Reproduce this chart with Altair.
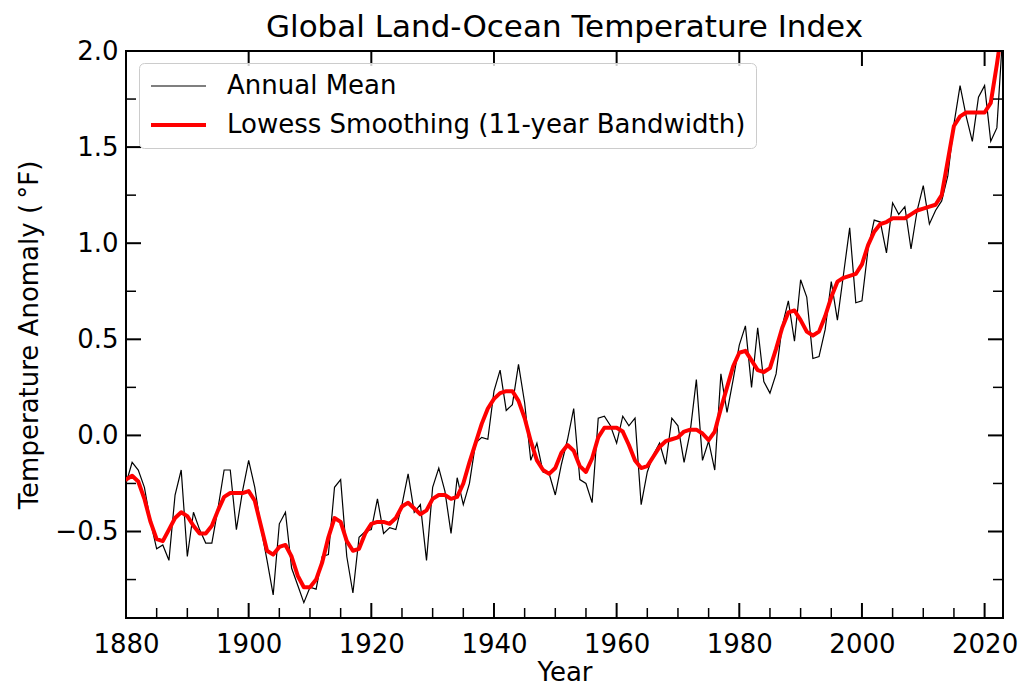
import altair as alt
import pandas as pd

# Annual global land-ocean temperature anomalies, degrees Fahrenheit
years = list(range(1880, 2024))
annual_mean = [
    -0.25, -0.14, -0.18, -0.27, -0.45, -0.59, -0.57, -0.65, -0.31, -0.18,  # 1880s
    -0.63, -0.40, -0.49, -0.56, -0.56, -0.38, -0.18, -0.18, -0.49, -0.29,  # 1890s
    -0.13, -0.27, -0.48, -0.65, -0.83, -0.46, -0.40, -0.69, -0.78, -0.87,  # 1900s
    -0.79, -0.80, -0.63, -0.62, -0.27, -0.23, -0.63, -0.82, -0.53, -0.50,  # 1910s
    -0.49, -0.33, -0.51, -0.48, -0.49, -0.36, -0.20, -0.40, -0.36, -0.65,  # 1920s
    -0.27, -0.17, -0.29, -0.51, -0.22, -0.36, -0.25, -0.04, -0.01, -0.02,  # 1930s
    0.23, 0.34, 0.13, 0.16, 0.37, 0.17, -0.13, -0.04, -0.19, -0.20,        # 1940s
    -0.31, -0.15, -0.02, 0.14, -0.23, -0.25, -0.35, 0.09, 0.10, 0.05,      # 1950s
    -0.04, 0.10, 0.05, 0.09, -0.36, -0.19, -0.10, -0.04, -0.15, 0.09,      # 1960s
    0.05, -0.14, 0.02, 0.29, -0.13, -0.03, -0.18, 0.32, 0.12, 0.29,        # 1970s
    0.47, 0.57, 0.25, 0.56, 0.28, 0.22, 0.32, 0.57, 0.70, 0.49,            # 1980s
    0.81, 0.72, 0.40, 0.41, 0.55, 0.80, 0.60, 0.84, 1.08, 0.69,            # 1990s
    0.70, 0.97, 1.12, 1.11, 0.95, 1.21, 1.15, 1.19, 0.97, 1.17,            # 2000s
    1.30, 1.10, 1.17, 1.22, 1.35, 1.62, 1.82, 1.66, 1.53, 1.76,            # 2010s
    1.82, 1.53, 1.60, 2.11,                                                # 2020s
]

# LOWESS-smoothed series (11-year bandwidth), degrees Fahrenheit
lowess_smooth = [
    -0.23, -0.21, -0.24, -0.33, -0.45, -0.54, -0.55, -0.49, -0.43, -0.40,  # 1880s
    -0.42, -0.47, -0.51, -0.51, -0.47, -0.39, -0.32, -0.30, -0.30, -0.30,  # 1890s
    -0.29, -0.34, -0.47, -0.60, -0.62, -0.58, -0.57, -0.63, -0.73, -0.79,  # 1900s
    -0.79, -0.75, -0.66, -0.53, -0.43, -0.45, -0.55, -0.60, -0.59, -0.51,  # 1910s
    -0.46, -0.45, -0.45, -0.46, -0.43, -0.37, -0.35, -0.38, -0.41, -0.39,  # 1920s
    -0.33, -0.31, -0.31, -0.33, -0.32, -0.25, -0.14, -0.04, 0.06, 0.14,    # 1930s
    0.19, 0.22, 0.23, 0.23, 0.18, 0.09, -0.03, -0.13, -0.18, -0.20,        # 1940s
    -0.17, -0.09, -0.05, -0.08, -0.16, -0.19, -0.12, -0.01, 0.04, 0.04,    # 1950s
    0.04, 0.02, -0.05, -0.13, -0.17, -0.16, -0.11, -0.06, -0.03, -0.02,    # 1960s
    -0.01, 0.02, 0.03, 0.03, 0.01, -0.025, 0.02, 0.14, 0.25, 0.36,         # 1970s
    0.43, 0.44, 0.39, 0.34, 0.33, 0.35, 0.45, 0.56, 0.64, 0.65,            # 1980s
    0.60, 0.54, 0.52, 0.54, 0.62, 0.72, 0.80, 0.82, 0.83, 0.84,            # 1990s
    0.89, 0.99, 1.06, 1.10, 1.11, 1.13, 1.13, 1.13, 1.15, 1.17,            # 2000s
    1.18, 1.19, 1.20, 1.25, 1.43, 1.61, 1.66, 1.68, 1.68, 1.68,            # 2010s
    1.68, 1.73, 1.93, 2.15,                                                # 2020s
]

SERIES = ["Annual Mean", "Lowess Smoothing (11-year Bandwidth)"]

# Tick positions
x_major = [1880, 1900, 1920, 1940, 1960, 1980, 2000, 2020]
x_minor = [y for y in range(1885, 2023, 5) if y % 20 != 0]
y_major = [-0.5, 0.0, 0.5, 1.0, 1.5, 2.0]
y_minor = [-0.75, -0.25, 0.25, 0.75, 1.25, 1.75]

W, H = 877, 567
FONT = "DejaVu Sans"
MAJOR_LEN, MINOR_LEN = 15, 10

annual_df = pd.DataFrame({"year": years, "anomaly": annual_mean, "series": SERIES[0]})
smooth_df = pd.DataFrame({"year": years, "anomaly": lowess_smooth, "series": SERIES[1]})

x_scale = alt.Scale(domain=[1880, 2023], nice=False, zero=False)
y_scale = alt.Scale(domain=[-0.95, 2.0], nice=False, zero=False)

legend = alt.Legend(
    title=None, orient="none", legendX=13, legendY=12,
    symbolType="stroke", symbolSize=3025, clipHeight=26,
    labelFont=FONT, labelFontSize=26, labelColor="black", labelOffset=19,
    labelLimit=2000,
    fillColor="rgba(255,255,255,0.8)", strokeColor="#cccccc", cornerRadius=5,
    padding=10, rowPadding=13,
)
color = alt.Color("series:N", scale=alt.Scale(domain=SERIES, range=["black", "red"]), legend=legend)
stroke_w = alt.StrokeWidth("series:N", scale=alt.Scale(domain=SERIES, range=[1.2, 4.0]), legend=legend)

x_axis = alt.Axis(
    values=x_major, format="d", title="Year", ticks=False, domain=False, grid=False,
    labelFont=FONT, labelFontSize=26, labelColor="black", labelPadding=13, labelFlush=False,
    titleFont=FONT, titleFontSize=26, titleFontWeight="normal", titleColor="black",
    titleY=62, titleBaseline="alphabetic",
)
y_axis = alt.Axis(
    values=y_major, format=".1f", title="Temperature Anomaly (\u2009°F)", ticks=False,
    domain=False, grid=False,
    labelFont=FONT, labelFontSize=26, labelColor="black", labelPadding=8,
    titleFont=FONT, titleFontSize=26, titleFontWeight="normal", titleColor="black",
    titleAngle=270, titleX=-89, titleY=H / 2, titleAlign="center", titleBaseline="alphabetic",
)

annual = alt.Chart(annual_df).mark_line(clip=True).encode(
    x=alt.X("year:Q", scale=x_scale, axis=x_axis),
    y=alt.Y("anomaly:Q", scale=y_scale, axis=y_axis),
    color=color,
    strokeWidth=stroke_w,
)

smooth = alt.Chart(smooth_df).mark_line(clip=True, strokeJoin="round", strokeCap="round").encode(
    x=alt.X("year:Q", scale=x_scale, axis=x_axis),
    y=alt.Y("anomaly:Q", scale=y_scale, axis=y_axis),
    color=color,
    strokeWidth=stroke_w,
)


def xticks(values, length, width, top=False):
    d = pd.DataFrame({"year": values})
    y0 = 0 if top else H
    y1 = length if top else H - length
    return alt.Chart(d).mark_rule(color="black", strokeWidth=width).encode(
        x=alt.X("year:Q", scale=x_scale, axis=x_axis),
        y=alt.value(y0), y2=alt.value(y1),
    )


def yticks(values, length, width, right=False):
    d = pd.DataFrame({"anomaly": values})
    x0 = W if right else 0
    x1 = W - length if right else length
    return alt.Chart(d).mark_rule(color="black", strokeWidth=width).encode(
        y=alt.Y("anomaly:Q", scale=y_scale, axis=y_axis),
        x=alt.value(x0), x2=alt.value(x1),
    )


ticks = [
    xticks(x_minor, MINOR_LEN, 1.5), xticks(x_major, MAJOR_LEN, 2),
    xticks(x_major, MAJOR_LEN, 2, top=True),
    yticks(y_minor, MINOR_LEN, 1.5), yticks(y_major, MAJOR_LEN, 2),
    yticks(y_minor, MINOR_LEN, 1.5, right=True), yticks(y_major, MAJOR_LEN, 2, right=True),
]

chart = alt.layer(annual, smooth, *ticks).properties(
    width=W, height=H,
    title=alt.TitleParams(
        "Global Land-Ocean Temperature Index", font=FONT, fontSize=31,
        fontWeight="normal", color="black", anchor="middle", frame="group",
        baseline="alphabetic", offset=17, dy=47,
    ),
    padding={"left": 126, "top": 51, "right": 24, "bottom": 67},
    autosize=alt.AutoSizeParams(type="none"),
).configure(
    background="white",
    view=alt.ViewConfig(stroke="black", strokeWidth=2),
)

chart.save("out.html", embed_options={"renderer": "svg", "actions": False})
